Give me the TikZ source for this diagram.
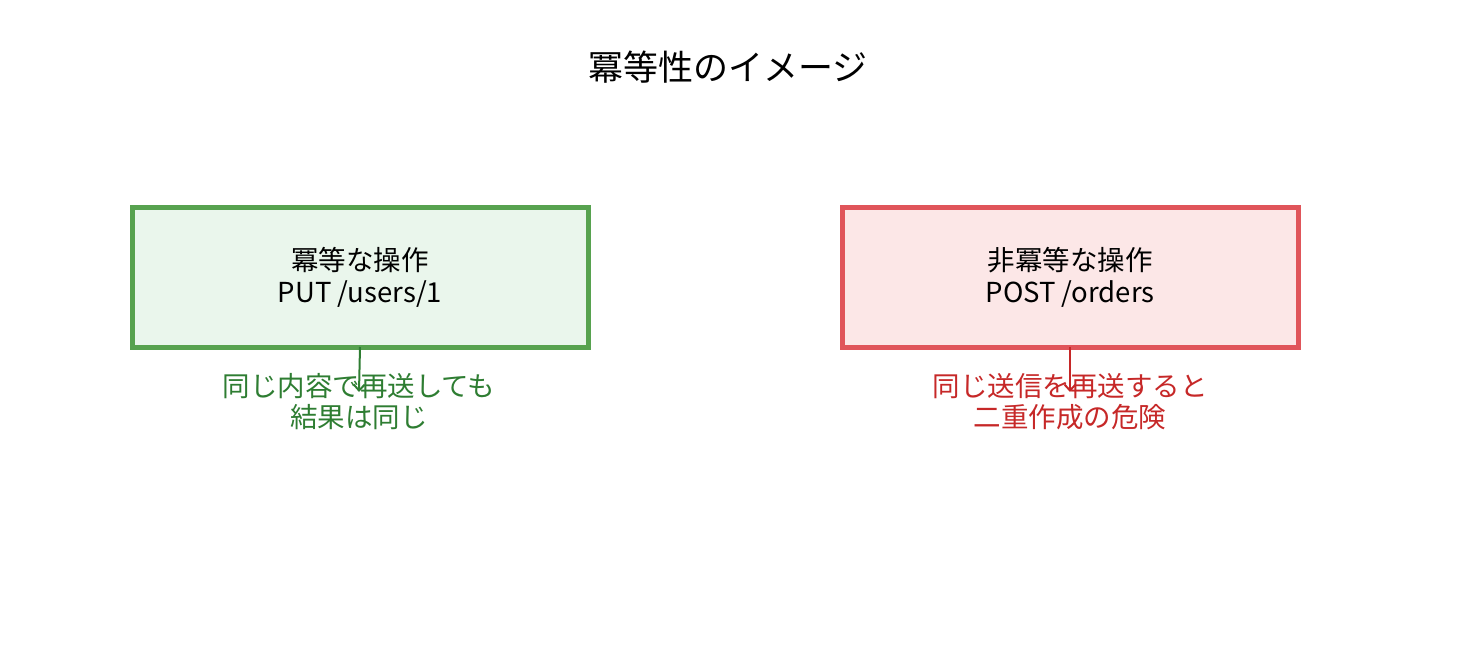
\documentclass[tikz,border=0pt]{standalone}
\usepackage{fontspec}
\usetikzlibrary{arrows.meta}
\setmainfont{Noto Sans CJK JP}
\definecolor{okline}{HTML}{57A24F}
\definecolor{okfill}{HTML}{EAF6EC}
\definecolor{oktext}{HTML}{2E7D32}
\definecolor{ngline}{HTML}{E0555A}
\definecolor{ngfill}{HTML}{FCE7E7}
\definecolor{ngtext}{HTML}{C62828}
\begin{document}
\begin{tikzpicture}[x=1pt, y=-1pt, every node/.style={inner sep=0pt, outer sep=0pt, align=center}, opbox/.style={draw, line width=5pt, minimum width=456pt, minimum height=140pt, font=\fontsize{27.5}{32}\selectfont}, note/.style={font=\fontsize{27.5}{31}\selectfont}, tip/.style={-{Straight Barb[length=6pt, width=11pt]}, line width=2pt}, line join=miter]
	\useasboundingbox (0, 0) rectangle (1457, 666);

	% タイトル
	\node[font=\fontsize{35}{42}\selectfont] (title) at (728, 67) {冪等性のイメージ};

	% 冪等な操作
	\node[opbox, draw=okline, fill=okfill] (idem) at (360, 277) {冪等な操作\\PUT /users/1};
	\node[note, text=oktext] (idemnote) at (359, 402) {同じ内容で再送しても\\結果は同じ};
	\coordinate (idemend) at (359, 392);
	\draw[tip, oktext] (idem.south) -- (idemend);

	% 非冪等な操作
	\node[opbox, draw=ngline, fill=ngfill] (nonidem) at (1070, 277) {非冪等な操作\\POST /orders};
	\node[note, text=ngtext] (nonidemnote) at (1070, 402) {同じ送信を再送すると\\二重作成の危険};
	\coordinate (nonidemend) at (1070, 392);
	\draw[tip, ngtext] (nonidem.south) -- (nonidemend);

\end{tikzpicture}
\end{document}
